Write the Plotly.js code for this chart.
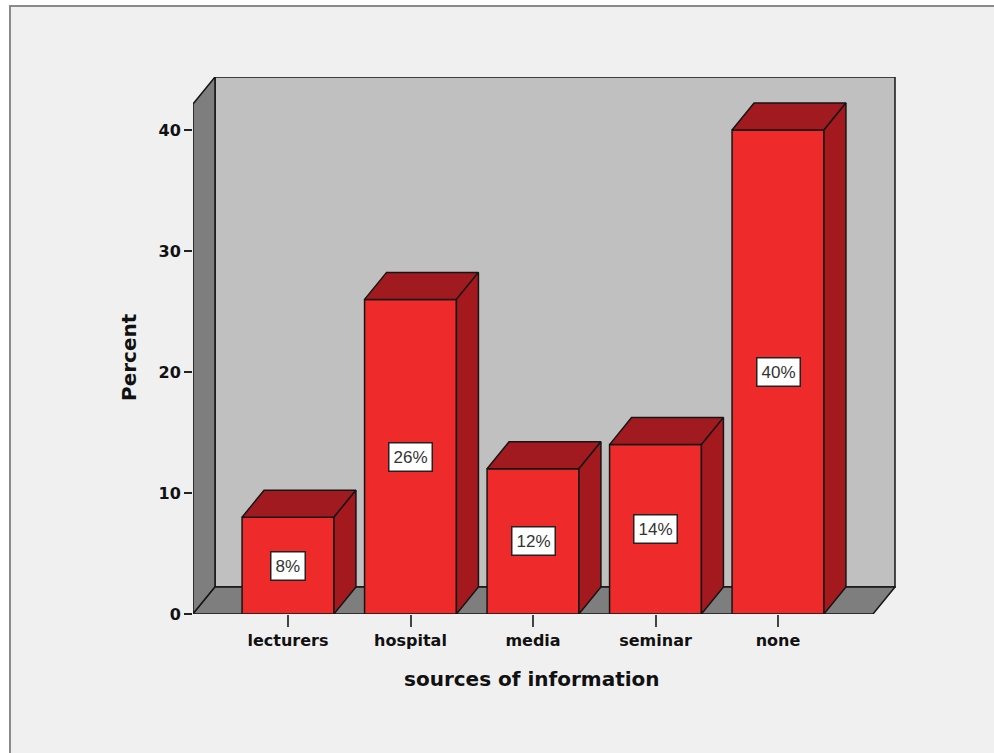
<!DOCTYPE html>
<html>
<head>
<meta charset="utf-8">
<script src="https://cdn.plot.ly/plotly-3.0.1.min.js"></script>
<style>
  html, body { margin: 0; padding: 0; background: #ffffff; }
  #chart { width: 994px; height: 753px; }
</style>
</head>
<body>
<div id="chart"></div>
<script>
// Sources of information (percent of respondents)
const categories = ['lecturers', 'hospital', 'media', 'seminar', 'none'];
const percents = [8, 26, 12, 14, 40];
const yTicks = [0, 10, 20, 30, 40];

// Figure geometry
const W = 994, H = 753;
const M = { l: 193, r: 98, t: 77, b: 139 };
const plotW = W - M.l - M.r;
const plotH = H - M.t - M.b;

// Axis scaling
const pxPerX = 122.5;
const pxPerY = 12.1;
const xMin = -0.7755;
const xMax = xMin + plotW / pxPerX;
const yMax = plotH / pxPerY;
const frontRight = (categories.length - 1) - xMin;

// 3D depth offset (pixels -> data units)
const depthX = 22 / pxPerX;
const depthY = 27 / pxPerY;
const barW = 0.75;

const RED = '#ee2a2a';
const RED_TOP = '#a01a1f';
const RED_SIDE = '#a3191d';
const EDGE = '#151515';

const xs = categories.map((_, i) => i);

const traces = [];
// front faces
traces.push({
  type: 'bar', x: xs, y: percents, width: barW,
  marker: { color: RED, line: { color: EDGE, width: 1.5 } },
  hoverinfo: 'skip', showlegend: false
});
// top and side faces
xs.forEach((x, i) => {
  const v = percents[i];
  const l = x - barW / 2, r = x + barW / 2;
  traces.push({
    type: 'scatter', mode: 'lines', fill: 'toself', fillcolor: RED_TOP,
    x: [l, l + depthX, r + depthX, r, l],
    y: [v, v + depthY, v + depthY, v, v],
    line: { color: EDGE, width: 1.5 }, hoverinfo: 'skip', showlegend: false
  });
  traces.push({
    type: 'scatter', mode: 'lines', fill: 'toself', fillcolor: RED_SIDE,
    x: [r, r + depthX, r + depthX, r, r],
    y: [0, depthY, v + depthY, v, 0],
    line: { color: EDGE, width: 1.5 }, hoverinfo: 'skip', showlegend: false
  });
});

// paper coordinate helpers
const px = (p) => (p - M.l) / plotW;
const py = (p) => (H - M.b - p) / plotH;

const shapes = [
  // outer frame
  { type: 'rect', xref: 'paper', yref: 'paper', layer: 'below',
    x0: px(10), x1: px(1002), y0: py(760), y1: py(6),
    fillcolor: '#f0f0f0', line: { color: '#8a8a8a', width: 2 } },
  // back wall
  { type: 'rect', xref: 'x', yref: 'y', layer: 'below',
    x0: xMin + depthX, x1: frontRight + depthX, y0: depthY, y1: yMax,
    fillcolor: '#c0c0c0', line: { color: EDGE, width: 1.5 } },
  // left wall
  { type: 'path', xref: 'x', yref: 'y', layer: 'below',
    path: `M ${xMin} 0 L ${xMin} ${yMax - depthY} L ${xMin + depthX} ${yMax} L ${xMin + depthX} ${depthY} Z`,
    fillcolor: '#7e7e7e', line: { color: EDGE, width: 1.5 } },
  // floor
  { type: 'path', xref: 'x', yref: 'y', layer: 'below',
    path: `M ${xMin} 0 L ${frontRight} 0 L ${frontRight + depthX} ${depthY} L ${xMin + depthX} ${depthY} Z`,
    fillcolor: '#7e7e7e', line: { color: EDGE, width: 1.5 } }
];

const annotations = xs.map((x, i) => ({
  x: x, y: percents[i] / 2, xref: 'x', yref: 'y',
  xanchor: 'center', yanchor: 'middle',
  text: percents[i] + '%', showarrow: false,
  font: { family: 'Liberation Sans, Arial, sans-serif', size: 17, color: '#333333' },
  bgcolor: '#ffffff', bordercolor: '#222222', borderwidth: 1.5, borderpad: 4
}));

const BOLD = 'DejaVu Sans, Verdana, sans-serif';
annotations.push({
  xref: 'paper', yref: 'paper', x: px(532), y: py(679),
  xanchor: 'center', yanchor: 'middle',
  text: '<b>sources of information</b>', showarrow: false,
  font: { family: BOLD, size: 20, color: '#111111' }
});
annotations.push({
  xref: 'paper', yref: 'paper', x: px(129), y: py(357),
  xanchor: 'center', yanchor: 'middle',
  text: '<b>Percent</b>', showarrow: false, textangle: -90,
  font: { family: BOLD, size: 20, color: '#111111' }
});

const layout = {
  width: W, height: H, autosize: false,
  margin: M,
  paper_bgcolor: '#ffffff',
  plot_bgcolor: 'rgba(0,0,0,0)',
  showlegend: false,
  xaxis: {
    range: [xMin, xMax], tickvals: xs, ticktext: categories.map(c => '<b>' + c + '</b>'),
    ticks: 'outside', ticklen: 12, tickwidth: 2, tickcolor: '#444444',
    showgrid: false, zeroline: false, showline: false,
    tickfont: { family: BOLD, size: 16, color: '#111111' }, fixedrange: true
  },
  yaxis: {
    range: [0, yMax], tickvals: yTicks, ticktext: yTicks.map(t => '<b>' + t + '</b>'),
    ticks: 'outside', ticklen: 8, tickwidth: 2, tickcolor: '#222222',
    showgrid: false, zeroline: false, showline: false,
    tickfont: { family: BOLD, size: 16, color: '#111111' }, fixedrange: true
  },
  shapes: shapes,
  annotations: annotations
};

Plotly.newPlot('chart', traces, layout, { displayModeBar: false, staticPlot: true });
</script>
</body>
</html>
